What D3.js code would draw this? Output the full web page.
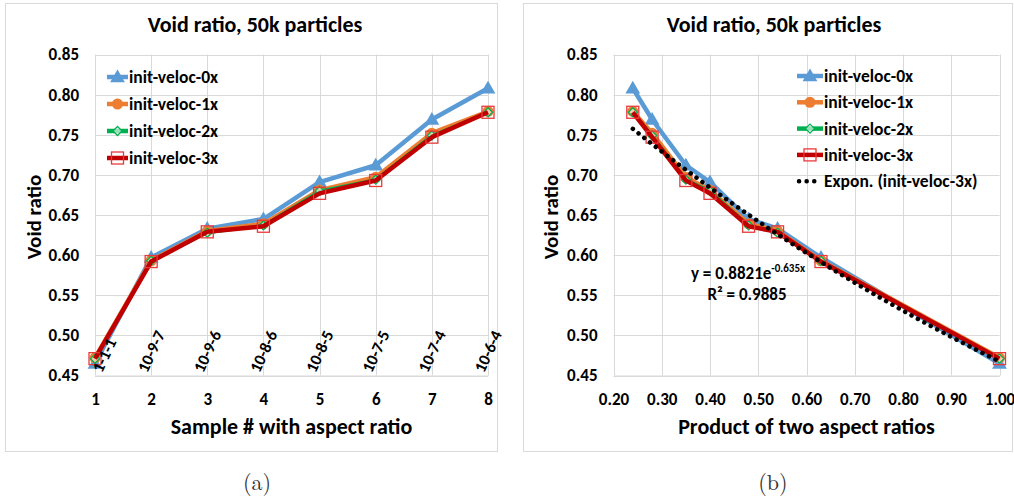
<!DOCTYPE html>
<html>
<head>
<meta charset="utf-8">
<script src="https://cdn.jsdelivr.net/npm/d3@7"></script>
<style>
  body { margin: 0; background: #fff; }
  svg text { font-family: Carlito, Lato, "Open Sans", sans-serif; font-weight: bold; fill: #000; }
  .grid line { stroke: #d9d9d9; stroke-width: 1; }
</style>
</head>
<body>
<svg id="chart" width="1014" height="500"></svg>
<script>
// ---- data ----
const samples = [1, 2, 3, 4, 5, 6, 7, 8];
const aspectLabels = ["1-1-1", "10-9-7", "10-9-6", "10-8-6", "10-8-5", "10-7-5", "10-7-4", "10-6-4"];
const aspectProduct = [1.00, 0.63, 0.54, 0.48, 0.40, 0.35, 0.28, 0.24];

const veloc0x = [0.465, 0.597, 0.633, 0.645, 0.691, 0.712, 0.769, 0.808];
const veloc1x = [0.472, 0.593, 0.630, 0.639, 0.681, 0.697, 0.752, 0.779];
const veloc2x = [0.471, 0.593, 0.628, 0.637, 0.680, 0.694, 0.749, 0.778];
const veloc3x = [0.471, 0.592, 0.629, 0.636, 0.677, 0.693, 0.747, 0.778];

// exponential trendline of init-veloc-3x, as printed on the chart
const trendA = 0.8821;
const trendB = -0.635;
const trendR2 = 0.9885;

const yTicks = [0.45, 0.50, 0.55, 0.60, 0.65, 0.70, 0.75, 0.80, 0.85];
const xTicksProduct = [0.2, 0.3, 0.4, 0.5, 0.6, 0.7, 0.8, 0.9, 1.0];

const series = [
  { name: "init-veloc-0x", values: veloc0x, color: "#5b9bd5", marker: "triangle" },
  { name: "init-veloc-1x", values: veloc1x, color: "#ed7d31", marker: "circle" },
  { name: "init-veloc-2x", values: veloc2x, color: "#00b050", marker: "diamond" },
  { name: "init-veloc-3x", values: veloc3x, color: "#c00000", marker: "square" }
];

const svg = d3.select("#chart");

function drawMarker(g, type, color, x, y) {
  if (type === "triangle") {
    g.append("path").attr("d", d3.symbol(d3.symbolTriangle, 95)())
      .attr("transform", `translate(${x},${y + 1})`).attr("fill", color);
  } else if (type === "circle") {
    g.append("circle").attr("cx", x).attr("cy", y).attr("r", 5.5).attr("fill", color);
  } else if (type === "diamond") {
    g.append("path").attr("d", "M0,-4.5L4.5,0L0,4.5L-4.5,0Z")
      .attr("transform", `translate(${x},${y})`)
      .attr("fill", "#fff").attr("fill-opacity", 0.6).attr("stroke", color).attr("stroke-width", 1.3);
  } else {
    g.append("rect").attr("x", x - 6).attr("y", y - 6).attr("width", 12).attr("height", 12)
      .attr("fill", "none").attr("stroke", "#e8393b").attr("stroke-width", 1.3);
  }
}

function drawPanel(cfg) {
  const g = svg.append("g");

  g.append("rect")
    .attr("x", cfg.box[0] + 0.5).attr("y", cfg.box[1] + 0.5)
    .attr("width", cfg.box[2]).attr("height", cfg.box[3])
    .attr("fill", "#fff").attr("stroke", "#d9d9d9");

  const x = cfg.x;
  const y = d3.scaleLinear().domain([0.45, 0.85]).range([375.5, 54.5]);

  // gridlines
  const grid = g.append("g").attr("class", "grid");
  grid.selectAll(".h").data(yTicks).join("line")
    .attr("x1", x.range()[0]).attr("x2", x.range()[1])
    .attr("y1", d => Math.round(y(d)) + 0.5).attr("y2", d => Math.round(y(d)) + 0.5);
  grid.selectAll(".v").data(cfg.xTicks).join("line")
    .attr("x1", d => Math.round(x(d)) + 0.5).attr("x2", d => Math.round(x(d)) + 0.5)
    .attr("y1", y(0.85)).attr("y2", y(0.45));

  // y axis
  const yAxis = g.append("g")
    .attr("transform", `translate(${x.range()[0]},0)`)
    .call(d3.axisLeft(y).tickValues(yTicks).tickFormat(d3.format(".2f")).tickSize(0).tickPadding(16));
  yAxis.select(".domain").remove();
  yAxis.selectAll("text").style("font-size", "17px");

  // x axis
  const xAxis = g.append("g")
    .attr("transform", `translate(0,${y(0.45)})`)
    .call(d3.axisBottom(x).tickValues(cfg.xTicks).tickFormat(cfg.xFormat).tickSize(0).tickPadding(17));
  xAxis.select(".domain").attr("stroke", "#d9d9d9");
  xAxis.selectAll("text").style("font-size", "17px");

  // titles
  g.append("text").attr("x", cfg.titleX).attr("y", 32).attr("text-anchor", "middle")
    .style("font-size", "22px").text("Void ratio, 50k particles");
  g.append("text").attr("transform", `translate(${cfg.yTitleX},217) rotate(-90)`)
    .attr("text-anchor", "middle").style("font-size", "21px").text("Void ratio");
  g.append("text").attr("x", (x.range()[0] + x.range()[1]) / 2).attr("y", 434)
    .attr("text-anchor", "middle").style("font-size", "22px").text(cfg.xTitle);
  g.append("text").attr("x", cfg.captionX).attr("y", 490).attr("text-anchor", "middle")
    .style("font-family", "'Latin Modern Roman', 'DejaVu Serif', serif").style("font-weight", "normal")
    .style("font-size", "22px").style("fill", "#333").text(cfg.caption);

  // series
  const line = d3.line().x(d => x(d[0])).y(d => y(d[1]));
  series.forEach(s => {
    const pts = s.values.map((v, i) => [cfg.xValues[i], v]);
    g.append("path").datum(pts).attr("d", line)
      .attr("fill", "none").attr("stroke", s.color)
      .attr("stroke-width", s.marker === "diamond" ? 3 : 4.5).attr("stroke-linejoin", "round");
    pts.forEach(p => drawMarker(g, s.marker, s.color, x(p[0]), y(p[1])));
  });

  if (cfg.after) cfg.after(g, x, y);

  // legend
  const lg = g.append("g").attr("transform", `translate(${cfg.legend[0]},${cfg.legend[1]})`);
  series.forEach((s, i) => {
    const row = lg.append("g").attr("transform", `translate(0,${i * cfg.legendStep})`);
    row.append("line").attr("x1", 0).attr("x2", cfg.legendLen).attr("y1", 0).attr("y2", 0)
      .attr("stroke", s.color).attr("stroke-width", 4.5);
    drawMarker(row, s.marker, s.color, cfg.legendLen / 2, 0);
    row.append("text").attr("x", cfg.legendLen + 1).attr("y", 6).style("font-size", "17.5px").text(s.name);
  });
  if (cfg.legendExtra) cfg.legendExtra(lg);
}

// (a) sample number
drawPanel({
  box: [5, 3, 492, 448],
  x: d3.scalePoint().domain(samples).range([95, 488]),
  xValues: samples,
  xTicks: samples,
  xFormat: d => d,
  titleX: 255,
  yTitleX: 41,
  xTitle: "Sample # with aspect ratio",
  caption: "(a)",
  captionX: 257,
  legend: [107, 77],
  legendStep: 27,
  legendLen: 21,
  after: (g, x, y) => {
    g.selectAll(".aspect").data(aspectLabels).join("text")
      .attr("transform", (d, i) => `translate(${x(samples[i]) + (i === 0 ? 7 : -4)},${y(0.45) - 2}) rotate(-65)`)
      .style("font-size", "16.5px").text(d => d);
  }
});

// (b) product of aspect ratios
drawPanel({
  box: [523, 3, 489, 448],
  x: d3.scaleLinear().domain([0.2, 1.0]).range([613.5, 999.5]),
  xValues: aspectProduct,
  xTicks: xTicksProduct,
  xFormat: d3.format(".2f"),
  titleX: 774,
  yTitleX: 558,
  xTitle: "Product of two aspect ratios",
  caption: "(b)",
  captionX: 773,
  legend: [797, 76],
  legendStep: 26.3,
  legendLen: 26,
  after: (g, x, y) => {
    const lo = d3.min(aspectProduct), hi = d3.max(aspectProduct);
    const xs = d3.range(lo, hi + 0.0001, 0.01);
    g.append("path")
      .datum(xs.map(v => [v, trendA * Math.exp(trendB * v)]))
      .attr("d", d3.line().x(d => x(d[0])).y(d => y(d[1])))
      .attr("fill", "none").attr("stroke", "#000").attr("stroke-width", 4.5)
      .attr("stroke-linecap", "round").attr("stroke-dasharray", "0.1 7.2");
    const eq = g.append("text").attr("x", 748).attr("y", 279).attr("text-anchor", "middle")
      .style("font-size", "17px");
    eq.append("tspan").text(`y = ${trendA}e`);
    eq.append("tspan").attr("dy", -7).style("font-size", "11px").text(`${trendB}x`);
    g.append("text").attr("x", 747).attr("y", 300).attr("text-anchor", "middle")
      .style("font-size", "17px").text(`R² = ${trendR2}`);
  },
  legendExtra: lg => {
    const row = lg.append("g").attr("transform", `translate(0,${4 * 26.3})`);
    row.append("line").attr("x1", 2).attr("x2", 18).attr("y1", 0).attr("y2", 0)
      .attr("stroke", "#000").attr("stroke-width", 4.5).attr("stroke-linecap", "round")
      .attr("stroke-dasharray", "0.1 7.5");
    row.append("text").attr("x", 27).attr("y", 6).style("font-size", "17.5px").text("Expon. (init-veloc-3x)");
  }
});
</script>
</body>
</html>
